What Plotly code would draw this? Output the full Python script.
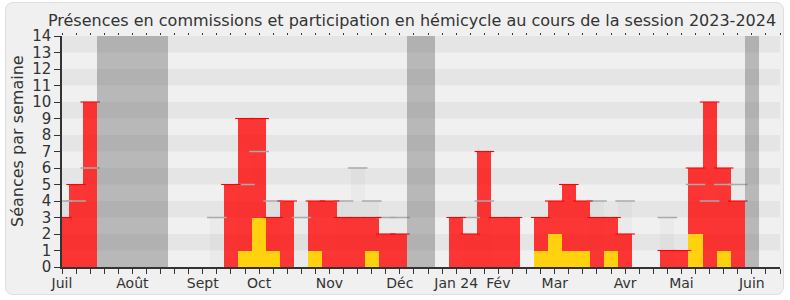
import plotly.graph_objects as go

# ---- data (one value per week of the session, week 0 = early July 2023) ----
weeks = list(range(52))
hemicycle = [3, 5, 10, 0, 0, 0, 0, 0, 0, 0, 0, 0, 5, 9, 9, 3, 4, 0, 4, 4,
             3, 3, 3, 2, 2, 0, 0, 0, 3, 2, 7, 3, 3, 0, 3, 4, 5, 4, 3, 3,
             2, 0, 0, 1, 1, 6, 10, 6, 4, 0, 0, 0]
interventions = [0, 0, 0, 0, 0, 0, 0, 0, 0, 0, 0, 0, 0, 1, 3, 1, 0, 0, 1, 0,
                 0, 0, 1, 0, 0, 0, 0, 0, 0, 0, 0, 0, 0, 0, 1, 2, 1, 1, 0, 1,
                 0, 0, 0, 0, 0, 2, 0, 1, 0, 0, 0, 0]
commissions = [4, 4, 6, 0, 0, 0, 0, 0, 0, 0, 0, 3, 0, 5, 7, 4, 0, 3, 0, 0,
               4, 6, 4, 3, 3, 0, 0, 0, 0, 3, 4, 0, 0, 0, 0, 0, 0, 0, 4, 0,
               4, 0, 0, 3, 0, 5, 4, 5, 5, 0, 0, 0]
vacances = [0, 0, 0, 14, 14, 14, 14, 14, 0, 0, 0, 0, 0, 0, 0, 0, 0, 0, 0, 0,
            0, 0, 0, 0, 0, 14, 14, 0, 0, 0, 0, 0, 0, 0, 0, 0, 0, 0, 0, 0,
            0, 0, 0, 0, 0, 0, 0, 0, 0, 14, 0, 0]
month_labels = ["Juil", "Août", "Sept", "Oct", "Nov", "Déc", "Jan 24", "Fév",
                "Mar", "Avr", "Mai", "Juin"]
month_weeks = [0, 5, 10, 14, 19, 24, 28, 31, 35, 40, 44, 49]
y_max = 14

assert len(hemicycle) == len(interventions) == len(commissions) == len(vacances) == len(weeks)

ticktext = []
for w in weeks:
    ticktext.append(month_labels[month_weeks.index(w)] if w in month_weeks else "")

def nz(vals):
    return [v if v else None for v in vals]

FONT = "DejaVu Sans"
W, H = 790, 300
ML, MR, MT, MB = 62, 10, 36, 33
PW, PH = W - ML - MR, H - MT - MB

fig = go.Figure()

# commissions (light bars)
fig.add_trace(go.Bar(x=weeks, y=commissions, width=1, marker=dict(color="rgba(0,0,0,0.022)", line=dict(width=0)),
                     hoverinfo="skip"))
fig.add_trace(go.Scatter(x=weeks, y=nz(commissions), mode="markers",
                         marker=dict(symbol="line-ew", size=14, line=dict(width=1.5, color="#aaaaaa")),
                         hoverinfo="skip"))
# hemicycle (red)
fig.add_trace(go.Bar(x=weeks, y=hemicycle, width=1, marker=dict(color="rgba(255,0,0,0.78)", line=dict(width=0)),
                     hoverinfo="skip"))
fig.add_trace(go.Scatter(x=weeks, y=nz(hemicycle), mode="markers",
                         marker=dict(symbol="line-ew", size=14, line=dict(width=1.1, color="#ff0000")),
                         hoverinfo="skip"))
# interventions (yellow)
fig.add_trace(go.Bar(x=weeks, y=interventions, width=1, marker=dict(color="#ffd10f", line=dict(width=0)),
                     hoverinfo="skip"))
# vacances (grey bands)
fig.add_trace(go.Bar(x=weeks, y=vacances, width=1, marker=dict(color="rgba(80,80,80,0.35)", line=dict(width=0)),
                     hoverinfo="skip", xaxis="x2"))

shapes = []
# outer rounded frame (pixel -> paper)
def px2x(p):
    return (p - ML) / PW
def px2y(p):
    return (H - MB - p) / PH
x0, x1, y0, y1, r = 5.5, 783.5, 2.5, 294.5, 8
path = (f"M {px2x(x0 + r)} {px2y(y0)} L {px2x(x1 - r)} {px2y(y0)} "
        f"Q {px2x(x1)} {px2y(y0)} {px2x(x1)} {px2y(y0 + r)} "
        f"L {px2x(x1)} {px2y(y1 - r)} Q {px2x(x1)} {px2y(y1)} {px2x(x1 - r)} {px2y(y1)} "
        f"L {px2x(x0 + r)} {px2y(y1)} Q {px2x(x0)} {px2y(y1)} {px2x(x0)} {px2y(y1 - r)} "
        f"L {px2x(x0)} {px2y(y0 + r)} Q {px2x(x0)} {px2y(y0)} {px2x(x0 + r)} {px2y(y0)} Z")
shapes.append(dict(type="path", path=path, xref="paper", yref="paper", layer="below",
                   fillcolor="#f0f0f0", line=dict(color="#dedede", width=1)))
# horizontal stripes
for k in range(1, y_max, 2):
    shapes.append(dict(type="rect", xref="paper", yref="y", x0=0, x1=1, y0=k, y1=k + 1,
                       layer="below", fillcolor="#e5e5e5", line=dict(width=0)))

fig.update_layout(
    width=W, height=H,
    margin=dict(l=ML, r=MR, t=MT, b=MB),
    paper_bgcolor="white", plot_bgcolor="#fafafa",
    barmode="overlay", bargap=0, showlegend=False,
    font=dict(family=FONT, color="#333333"),
    shapes=shapes,
    title=dict(text="Présences en commissions et participation en hémicycle au cours de la session 2023-2024",
               font=dict(family=FONT, size=16, color="#333333"),
               xref="container", x=412 / W, xanchor="center",
               yref="container", y=1 - 20 / H, yanchor="middle"),
    xaxis=dict(range=[0, 51], tickvals=weeks, ticktext=ticktext, ticks="outside", ticklen=5,
               tickwidth=1, tickcolor="#333333", showline=True, linecolor="#333333", linewidth=1.5,
               showgrid=False, zeroline=False, tickfont=dict(size=14, color="#333333"),
               ticklabelstandoff=-3),
    xaxis2=dict(range=[0, 51], overlaying="x", side="top", tickvals=weeks, ticks="outside",
                ticklen=2, tickwidth=1, tickcolor="#333333", showticklabels=False,
                showline=False, showgrid=False, zeroline=False),
    yaxis=dict(range=[0, y_max], dtick=1, tick0=0, ticks="outside", ticklen=6, tickwidth=1,
               tickcolor="#333333", showline=True, linecolor="#333333", linewidth=1.5,
               showgrid=False, zeroline=False, tickfont=dict(size=15, color="#333333")),
    annotations=[dict(text="Séances par semaine", textangle=-90, xref="paper", yref="paper",
                      x=px2x(17), y=px2y(141), xanchor="center", yanchor="middle", showarrow=False,
                      font=dict(family=FONT, size=16, color="#333333"))],
)

fig.write_html("out.html")
